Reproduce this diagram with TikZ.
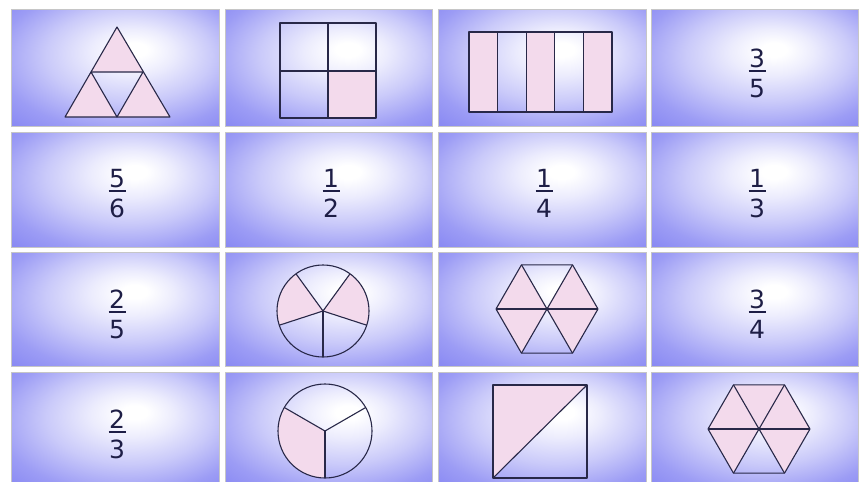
\documentclass[tikz,border=0pt]{standalone}
\usepackage{fontspec}
\setmainfont{DejaVu Sans}
\usetikzlibrary{calc}
\definecolor{cellblue}{RGB}{128,128,242}
\definecolor{pinkfill}{RGB}{243,218,236}
\definecolor{inkline}{RGB}{40,40,72}
\definecolor{fractext}{RGB}{30,30,70}
\pgfdeclareradialshading{cellglow}{\pgfpoint{5bp}{8bp}}{color(0bp)=(white); color(3bp)=(white); color(10bp)=(cellblue!15!white); color(20bp)=(cellblue!42!white); color(31bp)=(cellblue!78!white); color(42bp)=(cellblue); color(60bp)=(cellblue)}
\tikzset{
  cellbox/.style={shading=cellglow, draw=gray!45, line width=0.6pt},
  part/.style={draw=inkline, line width=1.1pt, line join=round},
  pinkpart/.style={fill=pinkfill},
  numstyle/.style={inner sep=0pt, text=fractext, font=\fontsize{25}{30}\selectfont},
  barstyle/.style={draw=fractext, line width=2pt}
}
\newcommand\fracat[5]{%
  \node[numstyle, anchor=base] (#1n) at (#2,#3-4) {#4};
  \draw[barstyle] (#2-8.5,#3) -- (#2+8.5,#3);
  \node[numstyle, anchor=north] (#1d) at (#2,#3+8) {#5};}
\begin{document}
\begin{tikzpicture}[x=1pt,y=-1pt]
\useasboundingbox (0,0) rectangle (860,482);
\clip (0,0) rectangle (860,482);
\fill[white] (0,0) rectangle (860,482);
% cells
\foreach \xa/\xb in {11/219,225/432,438/646,651/858}{
  \foreach \ya/\yb in {9/126,132/247,252/366,372/488}{
    \shade[cellbox] (\xa,\ya) rectangle (\xb,\yb);
  }
}
% row 1, cell 1: triangle 3/4
\fill[pinkpart] (117,27) -- (91,72) -- (143,72) -- cycle;
\fill[pinkpart] (91,72) -- (65,117) -- (117,117) -- cycle;
\fill[pinkpart] (143,72) -- (117,117) -- (170,117) -- cycle;
\draw[part] (117,27) -- (65,117) -- (170,117) -- cycle;
\draw[part] (91,72) -- (143,72) -- (117,117) -- cycle;
% row 1, cell 2: square 1/4
\fill[pinkpart] (328,71) rectangle (376,118);
\draw[part] (280,23) rectangle (376,118);
\draw[part] (328,23) -- (328,118);
\draw[part] (280,71) -- (376,71);
% row 1, cell 3: strips 3/5
\foreach \i in {0,2,4}{
  \fill[pinkpart] (469+28.6*\i,32) rectangle (469+28.6*\i+28.6,112);
}
\draw[part] (469,32) rectangle (612,112);
\foreach \i in {1,2,3,4}{
  \draw[part] (469+28.6*\i,32) -- (469+28.6*\i,112);
}
% row 1, cell 4
\fracat{fa}{757}{71}{3}{5}
% row 2
\fracat{fb}{117}{191}{5}{6}
\fracat{fc}{331}{191}{1}{2}
\fracat{fd}{544}{191}{1}{4}
\fracat{fe}{757}{191}{1}{3}
% row 3, cell 1
\fracat{ff}{117}{312}{2}{5}
% row 3, cell 2: circle in fifths, 2/5
\coordinate (ca) at (323,311);
\fill[pinkpart] (ca) -- ++(-126:46) arc[start angle=-126, end angle=-198, radius=46] -- cycle;
\fill[pinkpart] (ca) -- ++(18:46) arc[start angle=18, end angle=-54, radius=46] -- cycle;
\draw[part] (ca) circle[radius=46];
\foreach \a in {-270,-342,-54,-126,-198}{
  \draw[part] (ca) -- ++(\a:46);
}
% row 3, cell 3: hexagon 4/6
\coordinate (ha) at (547,309);
\foreach \a in {0,-120,-180,-300}{
  \fill[pinkpart] (ha) -- ++(\a:51) -- ++(\a-120:51) -- cycle;
}
\draw[part] (ha) ++(0:51) -- ++(-120:51) -- ++(-180:51) -- ++(-240:51) -- ++(-300:51) -- ++(-360:51) -- cycle;
\foreach \a in {0,-60,-120}{
  \draw[part] ($(ha)+(\a:51)$) -- ($(ha)+(\a-180:51)$);
}
% row 3, cell 4
\fracat{fg}{757}{312}{3}{4}
% row 4, cell 1
\fracat{fh}{117}{432}{2}{3}
% row 4, cell 2: circle in thirds, 1/3
\coordinate (cb) at (325,431);
\fill[pinkpart] (cb) -- ++(-150:47) arc[start angle=-150, end angle=-270, radius=47] -- cycle;
\draw[part] (cb) circle[radius=47];
\foreach \a in {-270,-30,-150}{
  \draw[part] (cb) -- ++(\a:47);
}
% row 4, cell 3: square with diagonal, 1/2
\fill[pinkpart] (493,385) -- (587,385) -- (493,478) -- cycle;
\draw[part] (493,385) rectangle (587,478);
\draw[part] (493,478) -- (587,385);
% row 4, cell 4: hexagon 5/6
\coordinate (hb) at (759,429);
\foreach \a in {0,-60,-120,-180,-300}{
  \fill[pinkpart] (hb) -- ++(\a:51) -- ++(\a-120:51) -- cycle;
}
\draw[part] (hb) ++(0:51) -- ++(-120:51) -- ++(-180:51) -- ++(-240:51) -- ++(-300:51) -- ++(-360:51) -- cycle;
\foreach \a in {0,-60,-120}{
  \draw[part] ($(hb)+(\a:51)$) -- ($(hb)+(\a-180:51)$);
}
\end{tikzpicture}
\end{document}
